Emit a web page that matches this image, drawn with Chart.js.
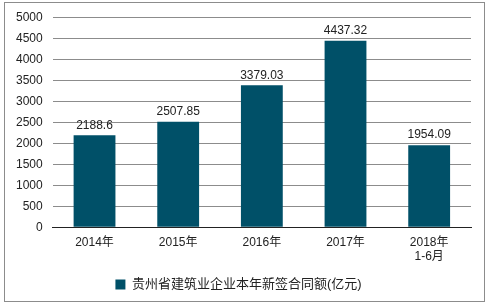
<!DOCTYPE html>
<html>
<head>
<meta charset="utf-8">
<script src="https://cdn.jsdelivr.net/npm/chart.js@4/dist/chart.umd.min.js"></script>
<style>
  html, body { margin: 0; padding: 0; background: #fff; }
  #frame { position: absolute; left: 4px; top: 2px; width: 479px; height: 298px; border: 1px solid #8c8c8c; }
  #wrap { position: absolute; left: 0; top: 0; width: 487px; height: 305px; }
</style>
</head>
<body>
<div id="frame"></div>
<div id="wrap"><canvas id="chart"></canvas></div>
<script>
// --- adatok ---
const categories = ['2014年', '2015年', '2016年', '2017年', ['2018年', '1-6月']];
const values = [2188.6, 2507.85, 3379.03, 4437.32, 1954.09];
const valueLabels = ['2188.6', '2507.85', '3379.03', '4437.32', '1954.09'];
const seriesName = '贵州省建筑业企业本年新签合同额(亿元)';

const barColor = '#005068';
const fontFamily = '"Liberation Sans", Arial, "Noto Sans CJK SC", sans-serif';

// oszlopok feletti értékcímkék
const valueLabelPlugin = {
    id: 'valueLabels',
    afterDatasetsDraw(chart) {
        const ctx = chart.ctx;
        const meta = chart.getDatasetMeta(0);
        ctx.save();
        ctx.font = '12px ' + fontFamily;
        ctx.fillStyle = '#222';
        ctx.textAlign = 'center';
        ctx.textBaseline = 'bottom';
        meta.data.forEach((bar, i) => {
            ctx.fillText(valueLabels[i], bar.x, bar.y - 4);
        });
        ctx.restore();
    }
};

new Chart(document.getElementById('chart').getContext('2d'), {
    type: 'bar',
    data: {
        labels: categories,
        datasets: [{
            label: seriesName,
            data: values,
            backgroundColor: barColor,
            categoryPercentage: 1,
            barPercentage: 0.5
        }]
    },
    options: {
        responsive: true, maintainAspectRatio: false,
        animation: false,
        layout: { padding: { left: 6, right: 16, top: 10, bottom: 4 } },
        scales: {
            x: {
                grid: { display: false, drawTicks: false },
                border: { color: '#222', width: 1 },
                ticks: { color: '#222', font: { size: 12, family: fontFamily }, padding: 8, maxRotation: 0 }
            },
            y: {
                min: 0, max: 5000,
                ticks: {
                    stepSize: 500, color: '#222', font: { size: 12, family: fontFamily }, padding: 10,
                    callback: v => String(v)
                },
                grid: { color: '#8c8c8c', drawTicks: false },
                border: { display: false }
            }
        },
        plugins: {
            legend: {
                position: 'bottom',
                labels: { color: '#222', font: { size: 13, family: fontFamily }, boxWidth: 10, boxHeight: 10, padding: 6 }
            },
            tooltip: { enabled: false }
        }
    },
    plugins: [valueLabelPlugin]
});
</script>
</body>
</html>
